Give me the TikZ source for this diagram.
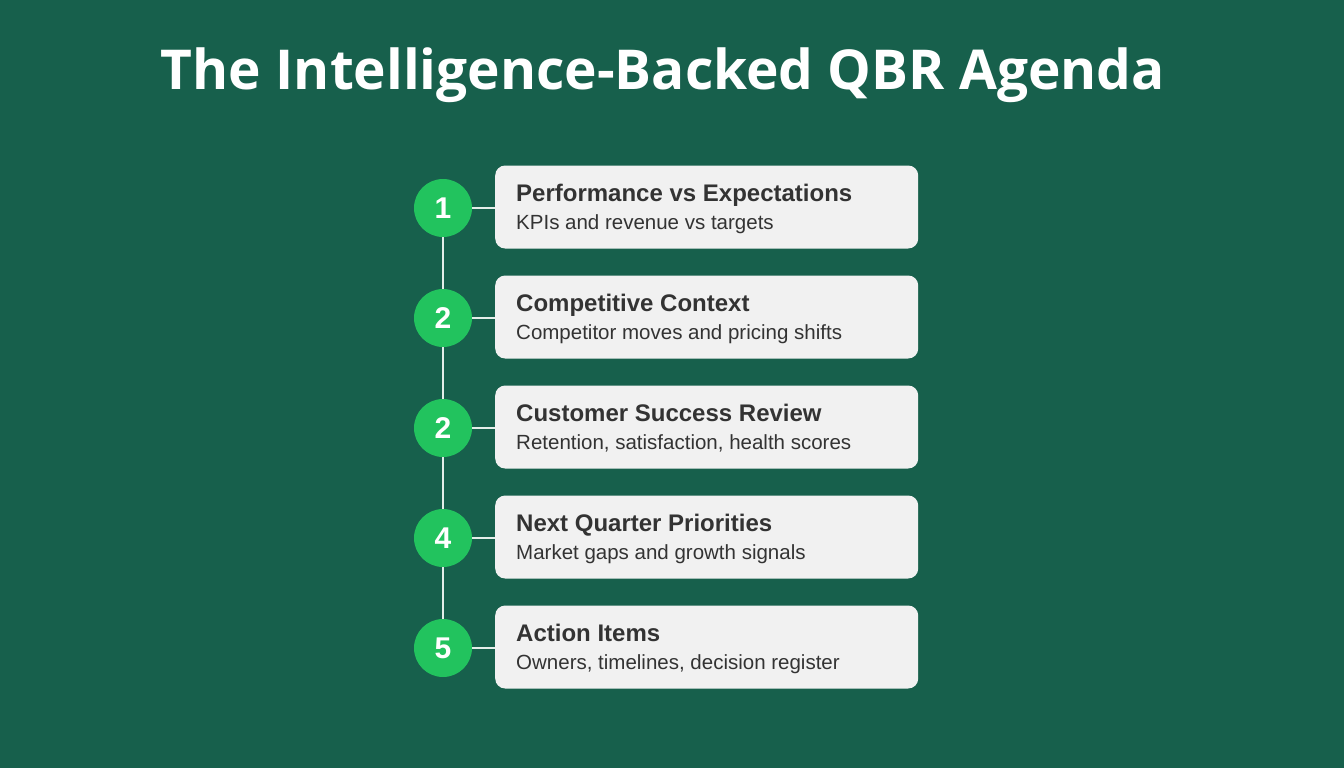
\documentclass[tikz,border=0pt]{standalone}
\usepackage{fontspec}
\setmainfont{Liberation Sans}
\newfontfamily\titlefont{Open Sans}
\definecolor{bg}{HTML}{17604C}
\definecolor{circ}{HTML}{22C35E}
\definecolor{boxfill}{HTML}{F1F1F1}
\definecolor{txt}{HTML}{333333}
\definecolor{linec}{HTML}{E4EEE9}
\begin{document}
\begin{tikzpicture}[x=1pt,y=-1pt,
  numcirc/.style={circle,fill=circ,minimum size=58pt,inner sep=0pt,text=white,font=\bfseries\fontsize{30}{30}\selectfont},
  itembox/.style={rounded corners=10pt,fill=boxfill,minimum width=423pt,minimum height=83pt,inner sep=0pt,anchor=west},
  headtxt/.style={anchor=base west,inner sep=0pt,text=txt,font=\bfseries\fontsize{24}{24}\selectfont},
  subtxt/.style={anchor=base west,inner sep=0pt,text=txt,font=\fontsize{20.5}{20.5}\selectfont},
  conn/.style={draw=linec,line width=2.5pt}]
\fill[bg] (0,0) rectangle (1344,768);
\useasboundingbox (0,0) rectangle (1344,768);
\node[text=white,font=\titlefont\bfseries\fontsize{55}{55}\selectfont,anchor=base] (title) at (663,89) {The Intelligence-Backed QBR Agenda};
\foreach \i/\n/\h/\s in {1/1/Performance vs Expectations/KPIs and revenue vs targets,
  2/2/Competitive Context/Competitor moves and pricing shifts,
  3/2/Customer Success Review/{Retention, satisfaction, health scores},
  4/4/Next Quarter Priorities/Market gaps and growth signals,
  5/5/Action Items/{Owners, timelines, decision register}}{
  \pgfmathsetmacro{\yy}{208+110*(\i-1)}
  \node[itembox] (b\i) at (495,\yy-1) {};
  \node[headtxt] (h\i) at (516,\yy-7) {\h};
  \node[subtxt] (s\i) at (516,\yy+21) {\s};
}
\draw[conn] (443,208) -- (443,648);
\foreach \i/\n in {1/1,2/2,3/2,4/4,5/5}{
  \pgfmathsetmacro{\yy}{208+110*(\i-1)}
  \coordinate (c\i) at (443,\yy);
  \draw[conn] (c\i) -- (b\i.west |- c\i);
  \node[numcirc] (n\i) at (c\i) {\n};
}
\end{tikzpicture}
\end{document}
